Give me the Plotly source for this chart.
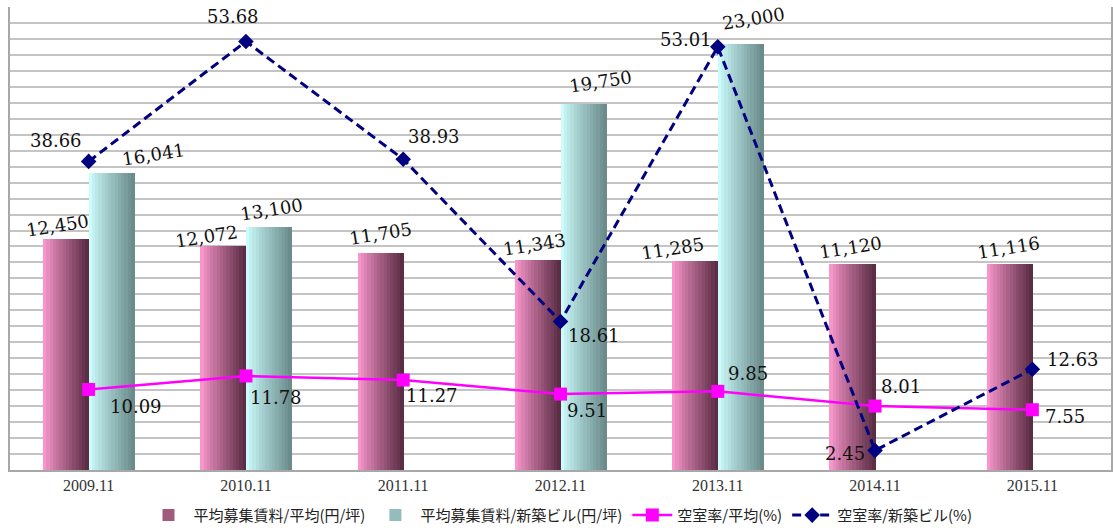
import plotly.graph_objects as go

categories = ['2009.11', '2010.11', '2011.11', '2012.11', '2013.11', '2014.11', '2015.11']
rent_avg = [12450, 12072, 11705, 11343, 11285, 11120, 11116]
rent_new = [16041, 13100, None, 19750, 23000, None, None]
vac_avg = [10.09, 11.78, 11.27, 9.51, 9.85, 8.01, 7.55]
vac_new = [38.66, 53.68, 38.93, 18.61, 53.01, 2.45, 12.63]

names = ['平均募集賃料/平均(円/坪)', '平均募集賃料/新築ビル(円/坪)', '空室率/平均(%)', '空室率/新築ビル(%)']

# label offsets (px) - layout only
off_rent_avg = [(-9, 14), (-17, 10), (0, 20), (-4, 15), (-23, 13), (-2, 17), (-1, 17)]
off_rent_new = [(42, 18), (3, 18), None, (17, 23), (13, 26), None, None]
off_vac_avg = [(47, -17), (30, -22), (29, -15), (26, -16), (30, 18), (26, 20), (33, -7)]
off_vac_new = [(-33, 21), (-13, 25), (31, 23), (33, -14), (-32, 7), (-30, -3), (41, 10)]

BW = 0.29
NS = 14


def lerp(c1, c2, t):
    return 'rgb(%d,%d,%d)' % tuple(round(a + (b - a) * t) for a, b in zip(c1, c2))


fig = go.Figure()


def add_gradient_bars(values, start, c_from, c_to, name, rank):
    xs = [c for c, v in zip(categories, values) if v is not None]
    ys = [v for v in values if v is not None]
    for i in range(NS):
        t = i / (NS - 1)
        t2 = t ** 0.9
        fig.add_trace(go.Bar(
            x=xs, y=ys, width=BW / NS + 0.003, offset=start + i * BW / NS,
            marker=dict(color=lerp(c_from, c_to, t2), line=dict(width=0)),
            name=name, legendgroup=name, showlegend=(i == NS // 2),
            legendrank=rank, hoverinfo='skip'))


add_gradient_bars(rent_avg, -BW, (248, 150, 202), (92, 46, 70), names[0], 1)
add_gradient_bars(rent_new, 0, (205, 252, 252), (108, 140, 140), names[1], 2)

fig.add_trace(go.Scatter(
    x=categories, y=vac_avg, yaxis='y2', name=names[2], mode='lines+markers',
    line=dict(color='#ff00ff', width=2.5),
    marker=dict(symbol='square', size=13, color='#ff00ff'), legendrank=3))
fig.add_trace(go.Scatter(
    x=categories, y=vac_new, yaxis='y2', name=names[3], mode='lines+markers',
    line=dict(color='#000080', width=3, dash='9px,5px'),
    marker=dict(symbol='diamond', size=12, color='#000080'), legendrank=4))

lab_font = dict(family='DejaVu Serif, serif', size=18, color='#111111')
ann = []
for i, (v, o) in enumerate(zip(rent_avg, off_rent_avg)):
    ann.append(dict(x=i, y=v, xref='x', yref='y', text=f'{v:,}', showarrow=False,
                    xshift=-22.5 + o[0], yshift=o[1], textangle=-9, font=lab_font))
for i, (v, o) in enumerate(zip(rent_new, off_rent_new)):
    if v is None:
        continue
    ann.append(dict(x=i, y=v, xref='x', yref='y', text=f'{v:,}', showarrow=False,
                    xshift=22.5 + o[0], yshift=o[1], textangle=-9, font=lab_font))
for i, (v, o) in enumerate(zip(vac_avg, off_vac_avg)):
    ann.append(dict(x=i, y=v, xref='x', yref='y2', text=f'{v:.2f}', showarrow=False,
                    xshift=o[0], yshift=o[1], font=lab_font))
for i, (v, o) in enumerate(zip(vac_new, off_vac_new)):
    ann.append(dict(x=i, y=v, xref='x', yref='y2', text=f'{v:.2f}', showarrow=False,
                    xshift=o[0], yshift=o[1], font=lab_font))

fig.update_layout(
    width=1113, height=532,
    margin=dict(l=10, r=0, t=7, b=58),
    paper_bgcolor='white', plot_bgcolor='white',
    barmode='overlay', bargap=0,
    showlegend=True,
    legend=dict(orientation='h', x=0.5, xanchor='center', y=-0.098, yanchor='middle',
                font=dict(family='Noto Sans CJK JP', size=15, color='#222222'),
                traceorder='normal', itemwidth=40),
    xaxis=dict(type='category', range=[-0.5, 6.5], showgrid=False,
               showline=True, linecolor='#a8a8a8', linewidth=2, mirror=False,
               ticks='', tickfont=dict(family='Liberation Serif', size=16, color='#333333')),
    yaxis=dict(range=[0, 25000], tick0=0, dtick=25000 / 29, showticklabels=False,
               showgrid=True, gridcolor='#c4c4c4', gridwidth=2, zeroline=False,
               showline=True, linecolor='#a8a8a8', linewidth=2, mirror=True, ticks=''),
    yaxis2=dict(range=[0, 58], overlaying='y', side='right', showgrid=False,
                showticklabels=False, zeroline=False, showline=False, ticks=''),
    annotations=ann,
)

fig.write_html('out.html')
